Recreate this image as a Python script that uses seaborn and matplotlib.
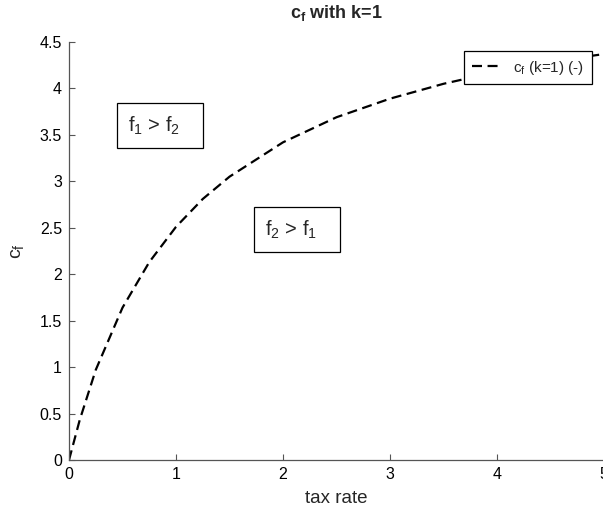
import numpy as np
import pandas as pd
import matplotlib
matplotlib.use('Agg')
import matplotlib.pyplot as plt
import matplotlib.ticker as mticker
import seaborn as sns

# values
tax_rate = [0, 0.1, 0.25, 0.5, 0.75, 1.0, 1.25, 1.5, 2.0, 2.5, 3.0, 3.5, 4.0, 4.5, 5.0]
cf_values = [0, 0.43, 0.97, 1.64, 2.13, 2.51, 2.81, 3.05, 3.42, 3.69, 3.89, 4.05, 4.18, 4.29, 4.37]

x_ticks = [0, 1, 2, 3, 4, 5]
y_ticks = [0, 0.5, 1, 1.5, 2, 2.5, 3, 3.5, 4, 4.5]

sns.set_style('ticks')
plt.rcParams['font.family'] = ['Liberation Sans', 'DejaVu Sans']
plt.rcParams['mathtext.fontset'] = 'custom'
plt.rcParams['mathtext.rm'] = 'Liberation Sans'
plt.rcParams['mathtext.it'] = 'Liberation Sans'
plt.rcParams['mathtext.bf'] = 'Liberation Sans:bold'

df = pd.DataFrame({'tax rate': tax_rate, 'c_f': cf_values})

fig = plt.figure(figsize=(6.03, 5.16), dpi=100)
ax = fig.add_axes([69 / 603, 56 / 516, 535 / 603, 418 / 516])

sns.lineplot(data=df, x='tax rate', y='c_f', ax=ax, color='black',
             linewidth=1.6, linestyle=(0, (4.5, 2.5)),
             label=r'$\mathregular{c_f}$ (k=1) (-)')

ax.set_xlim(0, 5)
ax.set_ylim(0, 4.5)
ax.set_xticks(x_ticks)
ax.set_yticks(y_ticks)
ax.yaxis.set_major_formatter(mticker.FuncFormatter(lambda v, p: '%g' % v))
ax.xaxis.set_major_formatter(mticker.FuncFormatter(lambda v, p: '%g' % v))
ax.tick_params(direction='in', length=4, width=0.8, labelsize=11.5, colors='#555555',
               labelcolor='black', pad=5)

for s in ['top', 'right']:
    ax.spines[s].set_visible(False)
for s in ['left', 'bottom']:
    ax.spines[s].set_color('#555555')
    ax.spines[s].set_linewidth(0.9)

ax.set_xlabel('tax rate', fontsize=13.5, labelpad=6)
ax.set_ylabel(r'$\mathregular{c_f}$', fontsize=14, labelpad=10)
ax.set_title(r'$\mathbf{c_f}$ with k=1', fontsize=13, fontweight='bold', pad=17)

box = dict(boxstyle='square,pad=0.55', facecolor='white', edgecolor='black', linewidth=0.9)
ax.text(0.55, 3.6, r'$\mathregular{f_1}$ > $\mathregular{f_2}$   ', fontsize=14.5, va='center', bbox=box)
ax.text(1.83, 2.48, r'$\mathregular{f_2}$ > $\mathregular{f_1}$   ', fontsize=14.5, va='center', bbox=box)

leg = ax.legend(loc='upper right', bbox_to_anchor=(0.977, 0.978), fontsize=11,
                frameon=True, fancybox=False, framealpha=1, handlelength=2.0,
                borderpad=0.5, handletextpad=0.7, borderaxespad=0)
leg.get_frame().set_edgecolor('black')
leg.get_frame().set_linewidth(0.9)

fig.savefig('out.png', dpi=100)
